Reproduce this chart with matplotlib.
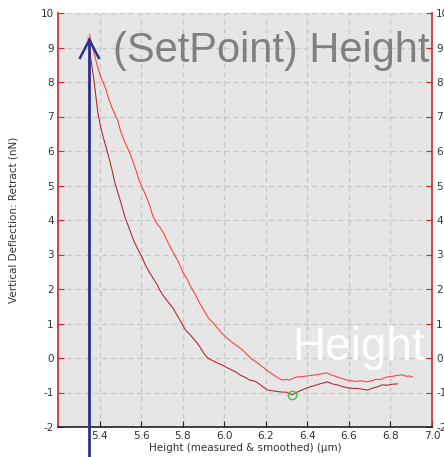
import matplotlib
matplotlib.use("Agg")
import matplotlib.pyplot as plt

# Extend curve (lighter red): height (µm) vs deflection (nN)
extend_x = [5.352, 5.362, 5.375, 5.39, 5.405, 5.42, 5.43, 5.445, 5.46, 5.475,
            5.488, 5.50, 5.515, 5.53, 5.545, 5.56, 5.575, 5.59, 5.605, 5.62,
            5.64, 5.657, 5.675, 5.69, 5.705, 5.725, 5.748, 5.765, 5.786, 5.80,
            5.82, 5.84, 5.86, 5.882, 5.90, 5.925, 5.95, 5.97, 5.988, 6.01,
            6.035, 6.06, 6.089, 6.11, 6.13, 6.16, 6.185, 6.21, 6.235, 6.26,
            6.281, 6.30, 6.315, 6.335, 6.35, 6.37, 6.40, 6.425, 6.45, 6.475,
            6.493, 6.51, 6.53, 6.55, 6.57, 6.589, 6.61, 6.635, 6.66, 6.685,
            6.71, 6.73, 6.755, 6.78, 6.80, 6.82, 6.84, 6.858, 6.875, 6.89, 6.906]
extend_y = [9.38, 9.10, 8.80, 8.45, 8.15, 7.95, 7.80, 7.50, 7.25, 7.05,
            6.88, 6.60, 6.35, 6.15, 5.95, 5.70, 5.45, 5.15, 4.95, 4.75,
            4.45, 4.10, 3.90, 3.80, 3.65, 3.40, 3.13, 2.95, 2.70, 2.50,
            2.30, 2.05, 1.85, 1.59, 1.40, 1.15, 1.00, 0.85, 0.72, 0.60,
            0.47, 0.36, 0.23, 0.10, -0.02, -0.14, -0.26, -0.38, -0.48, -0.58,
            -0.64, -0.62, -0.64, -0.58, -0.55, -0.54, -0.52, -0.50, -0.48, -0.45,
            -0.43, -0.48, -0.52, -0.56, -0.60, -0.64, -0.66, -0.68, -0.66, -0.69,
            -0.66, -0.62, -0.62, -0.55, -0.54, -0.52, -0.50, -0.49, -0.53, -0.52, -0.55]

# Retract curve (darker red)
retract_x = [5.345, 5.352, 5.362, 5.372, 5.382, 5.392, 5.405, 5.42, 5.435, 5.45,
             5.462, 5.474, 5.488, 5.505, 5.522, 5.54, 5.555, 5.57, 5.587, 5.604,
             5.62, 5.642, 5.657, 5.675, 5.69, 5.705, 5.725, 5.753, 5.775, 5.80,
             5.815, 5.835, 5.858, 5.88, 5.90, 5.92, 5.945, 5.965, 5.988, 6.01,
             6.03, 6.055, 6.075, 6.10, 6.123, 6.14, 6.156, 6.175, 6.19, 6.209,
             6.23, 6.255, 6.281, 6.30, 6.315, 6.325, 6.34, 6.36, 6.385, 6.41,
             6.435, 6.46, 6.48, 6.497, 6.52, 6.545, 6.57, 6.60, 6.625, 6.65,
             6.67, 6.69, 6.71, 6.735, 6.76, 6.785, 6.81, 6.834]
retract_y = [9.28, 8.95, 8.50, 8.10, 7.60, 7.10, 6.70, 6.35, 6.03, 5.70,
             5.40, 5.07, 4.80, 4.45, 4.09, 3.80, 3.55, 3.33, 3.12, 2.93,
             2.70, 2.46, 2.32, 2.15, 1.97, 1.82, 1.66, 1.45, 1.22, 0.96,
             0.80, 0.68, 0.52, 0.35, 0.15, 0.00, -0.08, -0.14, -0.20, -0.27,
             -0.33, -0.40, -0.49, -0.56, -0.64, -0.66, -0.70, -0.78, -0.85, -0.93,
             -0.95, -0.97, -0.99, -0.99, -1.03, -1.07, -1.02, -0.96, -0.90, -0.84,
             -0.80, -0.75, -0.72, -0.69, -0.75, -0.78, -0.83, -0.87, -0.88, -0.89,
             -0.91, -0.93, -0.88, -0.84, -0.78, -0.79, -0.76, -0.75]

# Minimum marker and setpoint arrow
min_x, min_y = 6.325, -1.07
setpoint_x, setpoint_y = 5.351, 9.22

x_ticks = [5.4, 5.6, 5.8, 6.0, 6.2, 6.4, 6.6, 6.8, 7.0]
x_grid = [5.2, 5.4, 5.6, 5.8, 6.0, 6.2, 6.4, 6.6, 6.8]
y_ticks = list(range(-2, 11))

fig = plt.figure(figsize=(4.44, 4.57), dpi=100)
ax = fig.add_axes([58 / 444, 30 / 457, 374 / 444, 414 / 457])
ax.set_facecolor("#e6e6e6")
ax.set_xlim(5.2, 7.0)
ax.set_ylim(-2, 10)

grid_kw = dict(color="#c6c6c6", lw=0.9, ls=(0, (4, 3)), zorder=0)
for gx in x_grid:
    ax.axvline(gx, **grid_kw)
for gy in y_ticks:
    ax.axhline(gy, **grid_kw)

ax.plot(extend_x, extend_y, color="#ff3b3b", lw=0.75, zorder=3)
ax.plot(retract_x, retract_y, color="#b3202a", lw=0.75, zorder=3)
ax.plot([min_x], [min_y], "o", ms=6, mfc="none", mec="#3cc43c", mew=1.0, zorder=4)

# Overlay titles
ax.text(5.464, 8.58, "(SetPoint) Height", fontsize=30, color="#808080",
        family="Liberation Sans", va="baseline", ha="left", clip_on=True, zorder=2)
ax.text(6.325, -0.06, "Height", fontsize=33, color="white",
        family="Liberation Sans", va="baseline", ha="left", clip_on=True, zorder=2)

# Setpoint arrow extending below the axes
arrow_color = "#2e2e8c"
ax.plot([setpoint_x, setpoint_x], [-2.9, setpoint_y], color=arrow_color, lw=2.0,
        clip_on=False, zorder=5, solid_capstyle="butt")
ax.plot([setpoint_x - 0.045, setpoint_x, setpoint_x + 0.045],
        [8.70, setpoint_y, 8.70], color=arrow_color, lw=1.8,
        clip_on=False, zorder=5, solid_joinstyle="miter")

ax.set_xticks(x_ticks)
ax.set_xticklabels([f"{v:.1f}" for v in x_ticks])
ax.set_yticks(y_ticks)
ax.set_yticklabels([str(v) for v in y_ticks])

ax.spines["top"].set_visible(False)
ax.spines["left"].set_color("#d02828")
ax.spines["right"].set_color("#d02828")
ax.spines["bottom"].set_color("#222222")
for s in ("left", "right", "bottom"):
    ax.spines[s].set_linewidth(1.2)

ax.tick_params(axis="x", direction="in", length=4, width=0.8, color="#222222",
               labelsize=7.5, labelcolor="#333333", pad=3)
ax.tick_params(axis="y", direction="in", length=4, width=0.8, color="#d02828",
               labelsize=7.5, labelcolor="#333333", right=True, labelright=True, pad=3)

ax.set_xlabel("Height (measured & smoothed) (µm)", fontsize=7.5, color="#333333", labelpad=1)
ax.set_ylabel("Vertical Deflection: Retract (nN)", fontsize=7.5, color="#333333", labelpad=16)

fig.savefig("out.png", dpi=100)
